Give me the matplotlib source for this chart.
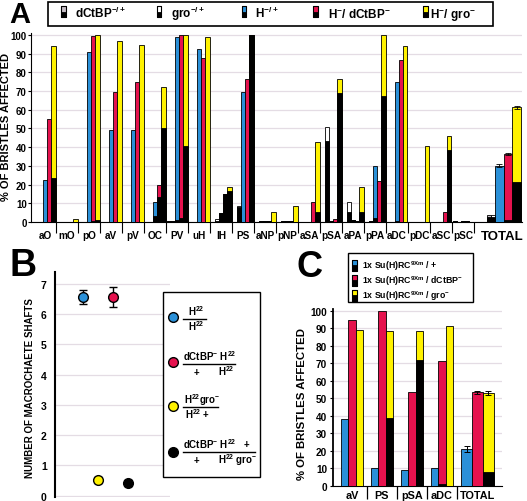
import matplotlib.pyplot as plt
from matplotlib.patches import Rectangle
from matplotlib.lines import Line2D
import numpy as np

plt.rcParams['font.family'] = 'Liberation Sans'
plt.rcParams['font.weight'] = 'bold'
plt.rcParams['mathtext.fontset'] = 'custom'
plt.rcParams['mathtext.rm'] = 'Liberation Sans:bold'
plt.rcParams['mathtext.it'] = 'Liberation Sans:bold'
plt.rcParams['mathtext.bf'] = 'Liberation Sans:bold'
plt.rcParams['mathtext.default'] = 'rm'

W, H = 527, 502
BLUE = '#2a90d8'
RED = '#e5124e'
YEL = '#fff200'
GRAY = '#c4bcc4'
GRID = '#e4dce4'

# ---- panel A data (% of bristles affected, total and black part) ----
sites = ['aO', 'mO', 'pO', 'aV', 'pV', 'OC', 'PV', 'uH', 'lH', 'PS', 'aNP', 'pNP',
         'aSA', 'pSA', 'aPA', 'pPA', 'aDC', 'pDC', 'aSC', 'pSC', 'TOTAL']
dctbp_all = [0, 0, 0, 0, 0, 0, 0.7, 0, 0, 0, 0, 0, 0, 0, 0, 0, 0, 0, 0, 0.7, 3.9]
dctbp_blk = [0, 0, 0, 0, 0, 0, 0.7, 0, 0, 0, 0, 0, 0, 0, 0, 0, 0, 0, 0, 0.7, 2.9]
gro_all = [0, 0, 0, 0, 0, 0, 0.7, 0, 1.8, 8.7, 0.5, 0.5, 0, 51, 10.5, 0.5, 0, 0, 0, 0, 3.6]
gro_blk = [0, 0, 0, 0, 0, 0, 0.7, 0, 0.4, 7.8, 0.5, 0.5, 0, 43.5, 5.2, 0.5, 0, 0, 0, 0, 2.9]
h_all = [22.6, 0, 90.7, 49, 49, 10.9, 98.7, 92.5, 4.6, 69.3, 0.5, 0.5, 0, 0.7, 1.2,
         29.8, 74.7, 0, 0, 0.5, 30.1]
h_blk = [0, 0, 0, 0, 0, 3.4, 1.2, 0, 4.6, 0, 0.5, 0.5, 0, 0.7, 1.2, 2, 0.5, 0, 0, 0.5, 0]
hd_all = [55.3, 0, 99.5, 69.5, 74.7, 19.8, 100, 87.5, 15, 76.5, 0.5, 0.5, 10.5, 1.5, 0.5,
          21.7, 86.8, 0, 5.5, 0.5, 36.4]
hd_blk = [0, 0, 0.7, 0, 0, 13.2, 2, 0, 15, 0, 0.5, 0.5, 0, 0, 0.5, 0, 0, 0, 0, 0.5, 1.2]
hg_all = [94, 1.8, 100, 96.8, 94.7, 72.4, 100, 98.7, 18.5, 100, 5.2, 8.4, 43, 76.5, 18.5,
          100, 94, 40.8, 46.2, 0, 61.3]
hg_blk = [23.4, 0, 1.2, 0, 0, 50, 40.8, 0, 16.4, 100, 0, 0, 5.2, 69, 5.2, 67.2, 0, 0,
          38.7, 0, 21.2]
total_err = [0.7, 0.5, 0.8]

# ---- panel B data ----
b_x = [1, 2, 1.5, 2.5]
b_mean = [6.57, 6.57, 0.53, 0.43]
b_err = [0.22, 0.33, 0.1, 0.1]
b_colors = [BLUE, RED, YEL, 'black']

# ---- panel C data ----
c_sites = ['aV', 'PS', 'pSA', 'aDC', 'TOTAL']
c_h = [38.1, 10.1, 9.1, 10.1, 21.1]
c_hd = [94.9, 99.6, 53.7, 71, 53.3]
c_hd_blk = [0, 0, 0, 1, 0]
c_hg = [88.8, 88.2, 88.2, 91.4, 53]
c_hg_blk = [0, 38.5, 72, 0, 7.6]
c_err = [1.6, 0.6, 0.9]


def fx(px):
    return px / W


def fy(py):
    return 1 - py / H


def stacked(ax, x, tot, blk, width, color):
    ax.bar(x, tot, width, color=color, edgecolor='black', linewidth=0.6, zorder=3)
    ax.bar(x, blk, width, color='black', edgecolor='black', linewidth=0.6, zorder=4)


def icon(fig, x0, y0, w, h, color):
    # colored top half, black bottom half (y0 = top edge in pixels)
    fig.add_artist(Rectangle((fx(x0), fy(y0 + h)), w / W, h / 2 / H,
                             transform=fig.transFigure, facecolor='black',
                             edgecolor='black', lw=0.6))
    fig.add_artist(Rectangle((fx(x0), fy(y0 + h / 2)), w / W, h / 2 / H,
                             transform=fig.transFigure, facecolor=color,
                             edgecolor='black', lw=0.6))
    fig.add_artist(Rectangle((fx(x0), fy(y0 + h)), w / W, h / H,
                             transform=fig.transFigure, facecolor='none',
                             edgecolor='black', lw=0.8))


def style_axes(ax):
    ax.spines['top'].set_visible(False)
    ax.spines['right'].set_visible(False)
    ax.yaxis.grid(True, color=GRID, lw=0.9)
    ax.set_axisbelow(True)
    for lbl in ax.get_xticklabels() + ax.get_yticklabels():
        lbl.set_fontweight('bold')


fig = plt.figure(figsize=(W / 100, H / 100), dpi=100)

# ================= panel A =================
axA = fig.add_axes([fx(31), fy(223), (522 - 31) / W, (223 - 34.1) / H])
slot = 0.19
n = len(sites) - 1
xa = np.arange(n, dtype=float)
tot_x = [20.175, 20.365, 20.655, 21.045, 21.43]
tot_w = [slot, slot, 0.39, 0.39, 0.39]
series = [(dctbp_all, dctbp_blk, GRAY), (gro_all, gro_blk, 'white'),
          (h_all, h_blk, BLUE), (hd_all, hd_blk, RED), (hg_all, hg_blk, YEL)]
for k, (tot, blk, col) in enumerate(series):
    xs = np.append(xa + (k - 2) * slot, tot_x[k])
    ws = np.append(np.full(n, slot), tot_w[k])
    stacked(axA, xs, tot, blk, ws, col)
axA.errorbar(tot_x[2:], [h_all[-1], hd_all[-1], hg_all[-1]],
             yerr=total_err, fmt='none', ecolor='black', elinewidth=0.6, capsize=2,
             capthick=0.6, zorder=5)
axA.set_xlim(-0.64, 21.68)
axA.set_ylim(0, 101)
axA.set_yticks(np.arange(0, 101, 10))
axA.set_xticks(list(xa) + [20.77])
axA.set_xticklabels(sites)
axA.set_xticks(np.arange(n) + 0.5, minor=True)
axA.tick_params(axis='x', which='major', length=0, labelsize=7.2, pad=6)
axA.tick_params(axis='x', which='minor', length=8, width=0.8, direction='out')
axA.tick_params(axis='y', length=2, labelsize=7, pad=1)
axA.get_xticklabels()[-1].set_fontsize(9.5)
style_axes(axA)
axA.set_ylabel('% OF BRISTLES AFFECTED', fontsize=8, fontweight='bold')
axA.yaxis.set_label_coords(-0.041, 0.51)

fig.text(fx(9), fy(23), 'A', fontsize=21, fontweight='bold', va='baseline')
fig.add_artist(Rectangle((fx(48), fy(27.3)), 445 / W, 24.6 / H, transform=fig.transFigure,
                         facecolor='white', edgecolor='black', lw=1.2))
legA = ['dCtBP$^{-/+}$', 'gro$^{-/+}$', 'H$^{-/+}$', 'H$^{-}$/ dCtBP$^{-}$', 'H$^{-}$/ gro$^{-}$']
legA_icon = [61, 156.7, 241.7, 313.3, 423.3]
legA_text = [75, 170.7, 255, 328.3, 430]
legA_col = [GRAY, 'white', BLUE, RED, YEL]
for lab, ix, tx, col in zip(legA, legA_icon, legA_text, legA_col):
    icon(fig, ix, 7.3, 4.6, 11, col)
    fig.text(fx(tx), fy(18.3), lab, fontsize=8.5, fontweight='bold', va='baseline')

# ================= panel B =================
axB = fig.add_axes([fx(55), fy(498.2), 115 / W, (498.2 - 272.9) / H])
for x, m, e, c in zip(b_x, b_mean, b_err, b_colors):
    axB.errorbar([x], [m], yerr=[e], fmt='o', ms=7, mfc=c, mec='black', mew=1,
                 ecolor='black', elinewidth=1, capsize=3, capthick=1, zorder=4)
axB.set_xlim(0.06, 3.89)
axB.set_ylim(-0.05, 7.4)
axB.set_yticks(range(0, 8))
axB.set_xticks([])
axB.spines['bottom'].set_visible(False)
axB.spines['left'].set_linewidth(1.5)
style_axes(axB)
axB.tick_params(axis='y', length=0, labelsize=7.5, pad=6)
axB.set_ylabel('NUMBER OF MACROCHAETE SHAFTS', fontsize=7, fontweight='bold')
axB.yaxis.set_label_coords(-0.17, 0.49)
fig.text(fx(9), fy(276), 'B', fontsize=27, fontweight='bold', va='baseline')

fig.add_artist(Rectangle((fx(163.3), fy(478)), (260 - 163.3) / W, (478 - 293) / H,
                         transform=fig.transFigure, facecolor='white', edgecolor='black',
                         lw=1, zorder=10))
legB_y = [318.3, 363.3, 407.3, 453.3]
for c, yy in zip(b_colors, legB_y):
    fig.add_artist(Line2D([fx(172.7)], [fy(yy)], marker='o', ms=7, mfc=c, mec='black',
                          mew=1, transform=fig.transFigure, zorder=11))
fracs = [
    (['H$^{22}$', 188, 316], [['H$^{22}$', 188]], 183, 206, 320, 331),
    (['dCtBP$^{-}$ H$^{22}$', 182.7, 361], [['+', 194], ['H$^{22}$', 218]], 182.7, 235, 365, 376),
    (['H$^{22}$gro$^{-}$', 184, 404], [['H$^{22}$ +', 185]], 183, 218, 407.7, 419),
    (['dCtBP$^{-}$ H$^{22}$   +', 182.7, 449], [['+', 194], ['H$^{22}$ gro$^{-}$', 218]], 182.7, 255, 452.7, 464),
]
for num, dens, x0, x1, ly, dy in fracs:
    fig.text(fx(num[1]), fy(num[2]), num[0], fontsize=7, fontweight='bold',
             va='baseline', zorder=11)
    fig.add_artist(Line2D([fx(x0), fx(x1)], [fy(ly), fy(ly)], color='black', lw=1,
                          transform=fig.transFigure, zorder=11))
    for s, dx in dens:
        fig.text(fx(dx), fy(dy), s, fontsize=7, fontweight='bold', va='baseline', zorder=11)

# ================= panel C =================
axC = fig.add_axes([fx(332.7), fy(486.7), (501.7 - 332.7) / W, (486.7 - 310) / H])
c_x = np.array([0, 1, 2, 3, 4.18])
c_w = np.array([0.245, 0.245, 0.245, 0.245, 0.36])
zeros = [0] * len(c_sites)
stacked(axC, c_x - c_w, c_h, zeros, c_w, BLUE)
stacked(axC, c_x, c_hd, c_hd_blk, c_w, RED)
stacked(axC, c_x + c_w, c_hg, c_hg_blk, c_w, YEL)
axC.errorbar([c_x[-1] - c_w[-1], c_x[-1], c_x[-1] + c_w[-1]],
             [c_h[-1], c_hd[-1], c_hg[-1]], yerr=c_err, fmt='none', ecolor='black',
             elinewidth=0.7, capsize=2.5, capthick=0.7, zorder=5)
axC.set_xlim(-0.64, 4.99)
axC.set_ylim(0, 101)
axC.set_yticks(np.arange(0, 101, 10))
axC.set_xticks([0, 1, 2, 3, 4.2])
axC.set_xticklabels(c_sites)
axC.set_xticks([0.5, 1.5, 2.5, 3.5], minor=True)
axC.tick_params(axis='x', which='major', length=0, labelsize=7.8, pad=3)
axC.tick_params(axis='x', which='minor', length=9, width=0.9, direction='out')
axC.tick_params(axis='y', length=2, labelsize=7.2, pad=2)
axC.spines['left'].set_linewidth(1.3)
style_axes(axC)
axC.set_ylabel('% OF BRISTLES AFFECTED', fontsize=8.2, fontweight='bold')
axC.yaxis.set_label_coords(-0.154, 0.47)
fig.text(fx(296), fy(277), 'C', fontsize=26, fontweight='bold', va='baseline')

fig.add_artist(Rectangle((fx(347.7), fy(303)), (473 - 347.7) / W, (303 - 254) / H,
                         transform=fig.transFigure, facecolor='white', edgecolor='black',
                         lw=1))
legC = ['1x Su(H)RC$^{9Xm}$ / +', '1x Su(H)RC$^{9Xm}$ / dCtBP$^{-}$',
        '1x Su(H)RC$^{9Xm}$ / gro$^{-}$']
for lab, col, yy in zip(legC, [BLUE, RED, YEL], [266, 281, 296]):
    icon(fig, 351.7, yy - 5.5, 5, 11, col)
    fig.text(fx(361.7), fy(yy + 3), lab, fontsize=6.3, fontweight='bold', va='baseline')

fig.savefig('out.png', dpi=100)
